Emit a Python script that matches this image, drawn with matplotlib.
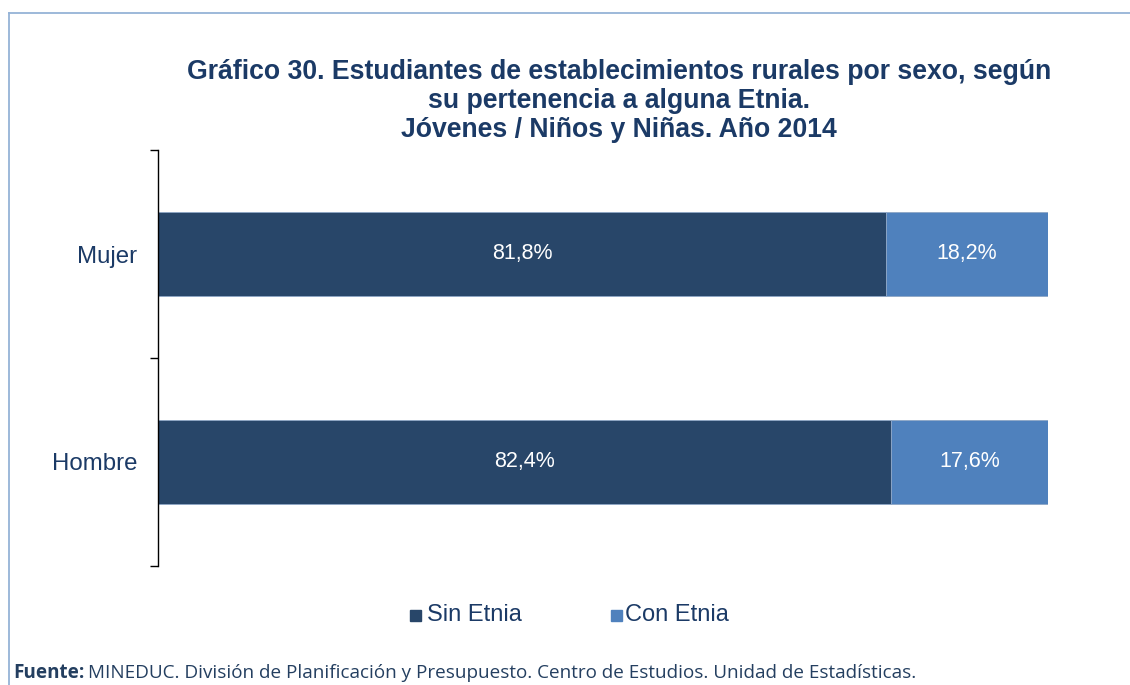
import matplotlib.pyplot as plt
from matplotlib.lines import Line2D
from matplotlib.patches import Rectangle

# data
categories = ["Hombre", "Mujer"]
sin_etnia = [82.4, 81.8]
con_etnia = [17.6, 18.2]
series_names = ["Sin Etnia", "Con Etnia"]

DARK = "#284669"
LIGHT = "#4F81BD"
NAVY = "#1B3A66"

W, H = 1130, 685
fig = plt.figure(figsize=(W / 100, H / 100), dpi=100)

# axes box: x 158..1048, y 150..566 (pixels from top)
ax = fig.add_axes([158 / W, 1 - 566 / H, (1048 - 158) / W, (566 - 150) / H])

ypos = list(range(len(categories)))
ax.barh(ypos, sin_etnia, height=0.4, color=DARK, edgecolor="#8EA6C6", linewidth=0.6)
ax.barh(ypos, con_etnia, left=sin_etnia, height=0.4, color=LIGHT,
        edgecolor="#8EA6C6", linewidth=0.6)

for y, a, b in zip(ypos, sin_etnia, con_etnia):
    ax.text(a / 2, y, f"{a:.1f}%".replace(".", ","), color="white",
            ha="center", va="center", fontsize=15.5, family="Liberation Sans")
    ax.text(a + b / 2, y, f"{b:.1f}%".replace(".", ","), color="white",
            ha="center", va="center", fontsize=15.5, family="Liberation Sans")

ax.set_xlim(0, 100)
ax.set_ylim(-0.5, len(categories) - 0.5)
ax.set_xticks([])
ax.set_yticks(ypos)
ax.set_yticklabels(categories, fontsize=17.3, color=NAVY, family="Liberation Sans")
ax.tick_params(axis="y", which="major", length=0, pad=15)
ax.set_yticks([-0.5, 0.5, 1.5], minor=True)
ax.tick_params(axis="y", which="minor", length=6, width=1, color="black")
for s in ["top", "right", "bottom"]:
    ax.spines[s].set_visible(False)
ax.spines["left"].set_color("black")
ax.spines["left"].set_linewidth(1)

# title
fig.text(619 / W, 1 - 101 / H,
         "Gráfico 30. Estudiantes de establecimientos rurales por sexo, según\n"
         "su pertenencia a alguna Etnia.\n"
         "Jóvenes / Niños y Niñas. Año 2014",
         ha="center", va="center", fontsize=19.2, fontweight="bold", color=NAVY,
         family="Liberation Sans", linespacing=1.16)

# legend
ly = 1 - 615 / H
fig.patches.append(Rectangle((410 / W, ly - 5.5 / H), 11 / W, 11 / H,
                             transform=fig.transFigure, color=DARK))
fig.text(427 / W, ly, series_names[0], ha="left", va="center", fontsize=17,
         color=NAVY, family="Liberation Sans")
fig.patches.append(Rectangle((611 / W, ly - 5.5 / H), 11 / W, 11 / H,
                             transform=fig.transFigure, color=LIGHT))
fig.text(625 / W, ly, series_names[1], ha="left", va="center", fontsize=17,
         color=NAVY, family="Liberation Sans")

# footer
fy = 1 - 673 / H
t1 = fig.text(13 / W, fy, "Fuente:", ha="left", va="center", fontsize=13.55,
              fontweight="bold", color="#243F60", family="Open Sans")
fig.canvas.draw()
bb = t1.get_window_extent()
fig.text(bb.x1 / W + 4 / W, fy,
         "MINEDUC. División de Planificación y Presupuesto. Centro de Estudios. Unidad de Estadísticas.",
         ha="left", va="center", fontsize=13.55, color="#243F60", family="Open Sans")

# frame lines
fig.add_artist(Line2D([9 / W, 9 / W], [0, 1 - 13 / H], transform=fig.transFigure,
                      color="#95B3D7", linewidth=1.3))
fig.add_artist(Line2D([9 / W, 1], [1 - 13 / H, 1 - 13 / H], transform=fig.transFigure,
                      color="#95B3D7", linewidth=1.3))

fig.savefig("out.png", dpi=100)
